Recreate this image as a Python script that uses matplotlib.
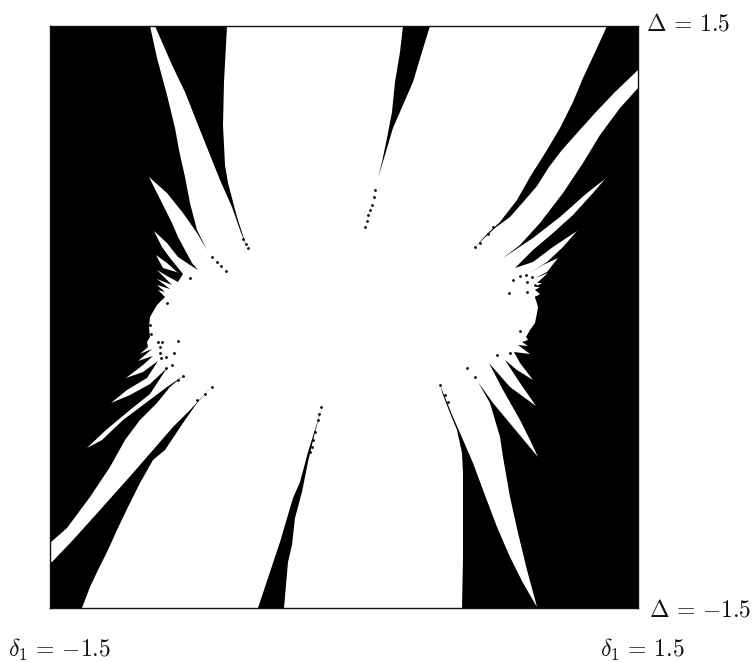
import matplotlib
matplotlib.use("Agg")
import matplotlib.pyplot as plt
import numpy as np

plt.rcParams['mathtext.fontset'] = 'cm'
plt.rcParams['font.family'] = ['DejaVu Serif']

# Boundary of the white region (read-off units:
# 588 units across = 3 in delta_1, 582 units down = 3 in Delta)
top_notch = [(227,26),(403,26),(400,52),(395,82),(392,112),(387,138),(382,162),(377,182),(372,202),(365,228),
             (373,198),(378,178),(385,155),(393,128),(403,105),(413,82),(422,52),(430,26)]
upper_right_band = [(607,26),(597,48),(583,78),(573,102),(560,128),(547,150),(530,177),(517,200),(500,222),(488,233),(475,247),
                    (495,228),(510,217),(525,200),(537,186),(549,167),(562,150),(578,132),(596,112),(615,92),(638,70),
                    (638,88),(620,108),(600,135),(583,163),(563,193),(540,223),(520,245),(503,258)]
upper_right_spikes = [(533,238),(560,217),(587,193),(605,179),(593,193),(573,215),(553,233),(533,250),(515,268),
                      (533,262),(553,247),(577,231),(563,247),(547,262),(530,273),
                      (543,265),(558,258),(547,272),(535,278),(548,273),(537,283),(542,283),(535,287),(540,287),(535,290),(540,294),(535,297)]
right_edge = [(538,307),(537,313),(535,323),(530,330),(526,337),(528,340),(522,342),(528,346),(518,345)]
lower_right_spikes = [(530,354),(514,352),(520,363),(533,380),(517,370),(505,360),(520,383),(536,406),(510,387),(489,363),
                      (503,390),(520,420),(530,440),(538,457),(513,427),(493,403),(478,382)]
lower_right_band = [(490,403),(500,437),(503,457),(510,497),(518,533),(527,570),(537,607),(523,583),(510,557),(497,527),(483,490),
                    (473,463),(460,433),(453,417),(440,385)]
lower_centre = [(443,395),(450,413),(457,430),(462,453),(463,473),(463,557),(462,608),(284,608),(288,562),(292,545),(295,518),
                (302,492),(308,462),(315,432),(322,407),(308,452),(300,482),(293,498),(285,525),(280,542),(270,572),(258,608)]
lower_left_main = [(82,608),(90,587),(98,570),(108,550),(117,530),(128,507),(140,483),(153,460),(165,450),(183,423),(197,403),(212,386)]
lower_left_band = [(190,410),(173,427),(153,450),(133,473),(100,510),(73,540),(52,562),(50,562),(50,543),
                   (67,528),(90,497),(110,467),(125,440),(140,420),(157,403),(170,387),(183,376)]
lower_left_spikes = [(167,387),(147,402),(123,420),(102,440),(87,448),(106,430),(130,410),(150,394),(167,368),
                     (150,384),(130,395),(111,403),(127,390),(147,378),(158,361),(143,372),(126,378),(143,365),(153,356),
                     (138,361),(152,349),(140,354),(148,347)]
left_edge = [(147,342),(150,337),(149,327),(150,317),(157,305),(165,297),(158,290),(165,292),(157,285),(170,289),(157,279),(172,285)]
upper_left_spikes = [(165,278),(157,270),(167,276),(178,282),(183,274),(163,268),(156,255),(167,263),(177,272),(183,274),
                     (170,258),(162,247),(154,231),(167,243),(178,257),(190,265),(198,270),(192,263),(185,250),(178,237),
                     (172,223),(163,205),(149,177),(167,193),(183,213),(197,233),(207,250)]
upper_left_band = [(197,230),(190,203),(185,177),(179,150),(175,128),(167,95),(157,58),(150,26),(155,26),(172,65),(185,92),(198,125),
                   (208,150),(220,180),(232,207),(240,230),(247,248),(237,217),(228,183),(225,165),(223,125),(224,82)]

# Isolated black specks inside the white region
specks = [(212,257),(217,262),(221,266),(226,271),(243,239),(246,244),(248,248),(190,278),(167,303),(178,341),
          (158,342),(162,342),(160,347),(174,353),(160,353),(166,357),(161,358),(172,365),(166,368),(150,325),(151,334),
          (205,394),(197,400),(212,387),(183,376),(178,380),(475,247),(480,243),(488,234),(493,227),(513,280),(509,293),
          (520,276),(526,275),(527,282),(532,277),(527,292),(535,285),(536,297),(520,331),(497,355),(510,353),(467,368),
          (475,377),(440,385),(445,395),(448,402),(365,227),(367,221),(368,215),(370,210),(372,205),(374,197),(375,190),
          (321,407),(319,414),(318,420),(315,432),(313,440),(312,447),(310,452)]

labels = [r"$\Delta\,=\,1.5$", r"$\Delta\,=\,{-}1.5$", r"$\delta_1\,=\,{-}1.5$", r"$\delta_1\,=\,1.5$"]


def to_delta1(u):
    return -1.5 + 3.0 * (np.asarray(u, float) - 50) / 588


def to_Delta(v):
    return 1.5 - 3.0 * (np.asarray(v, float) - 26) / 582


outline = np.array(top_notch + upper_right_band + upper_right_spikes + right_edge + lower_right_spikes
                   + lower_right_band + lower_centre + lower_left_main + lower_left_band + lower_left_spikes
                   + left_edge + upper_left_spikes + upper_left_band)
dots = np.array(specks)

fig = plt.figure(figsize=(7.53, 6.62), dpi=100)
ax = fig.add_axes([50/753, 1 - 608/662, 588/753, 582/662])
ax.set_facecolor('black')
ax.fill(to_delta1(outline[:, 0]), to_Delta(outline[:, 1]), color='white', linewidth=0)
ax.scatter(to_delta1(dots[:, 0]), to_Delta(dots[:, 1]), s=4, color='black', linewidths=0)
ax.set_xlim(-1.5, 1.5)
ax.set_ylim(-1.5, 1.5)
ax.set_xticks([])
ax.set_yticks([])
for s in ax.spines.values():
    s.set_color('#111111')
    s.set_linewidth(1.0)

fs = 17
label_u = [646, 649, 8, 600]
label_v = [24, 610, 650, 650]
for txt, u, v in zip(labels, label_u, label_v):
    ax.text(to_delta1(u), to_Delta(v), txt, fontsize=fs, color='#111111', va='center', ha='left', clip_on=False)

fig.savefig('out.png', dpi=100, facecolor='white')
